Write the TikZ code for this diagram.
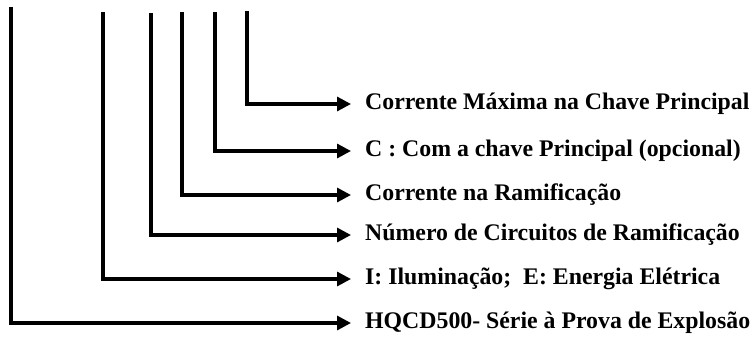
\documentclass[tikz,border=0pt]{standalone}
\usepackage{fontspec}
\setmainfont{Liberation Serif}
\usetikzlibrary{arrows.meta}
\begin{document}
\begin{tikzpicture}[x=1pt,y=1pt,
  lbl/.style={anchor=west,inner xsep=14pt,inner ysep=0pt,font=\fontsize{23.8}{28}\selectfont\bfseries},
  conn/.style={line width=3.2pt,-{Triangle[length=14pt,width=14pt]}}]
\useasboundingbox (0,0) rectangle (754,338);
\node[lbl] (l1) at (351,338-104) {Corrente Máxima na Chave Principal};
\node[lbl] (l2) at (351,338-151) {C : Com a chave Principal (opcional)};
\node[lbl] (l3) at (351,338-195) {Corrente na Ramificação};
\node[lbl] (l4) at (351,338-235) {Número de Circuitos de Ramificação};
\node[lbl] (l5) at (351,338-279) {I: Iluminação;\ \ E: Energia Elétrica};
\node[lbl] (l6) at (351,338-323) {HQCD500- Série à Prova de Explosão};
\coordinate (t1) at (247,338-11);
\coordinate (t2) at (215,338-12);
\coordinate (t3) at (182,338-12);
\coordinate (t4) at (151,338-13);
\coordinate (t5) at (103,338-12);
\coordinate (t6) at (11,338-7);
\foreach \i in {1,...,6} \draw[conn] (t\i) |- (l\i.west);
\end{tikzpicture}
\end{document}
